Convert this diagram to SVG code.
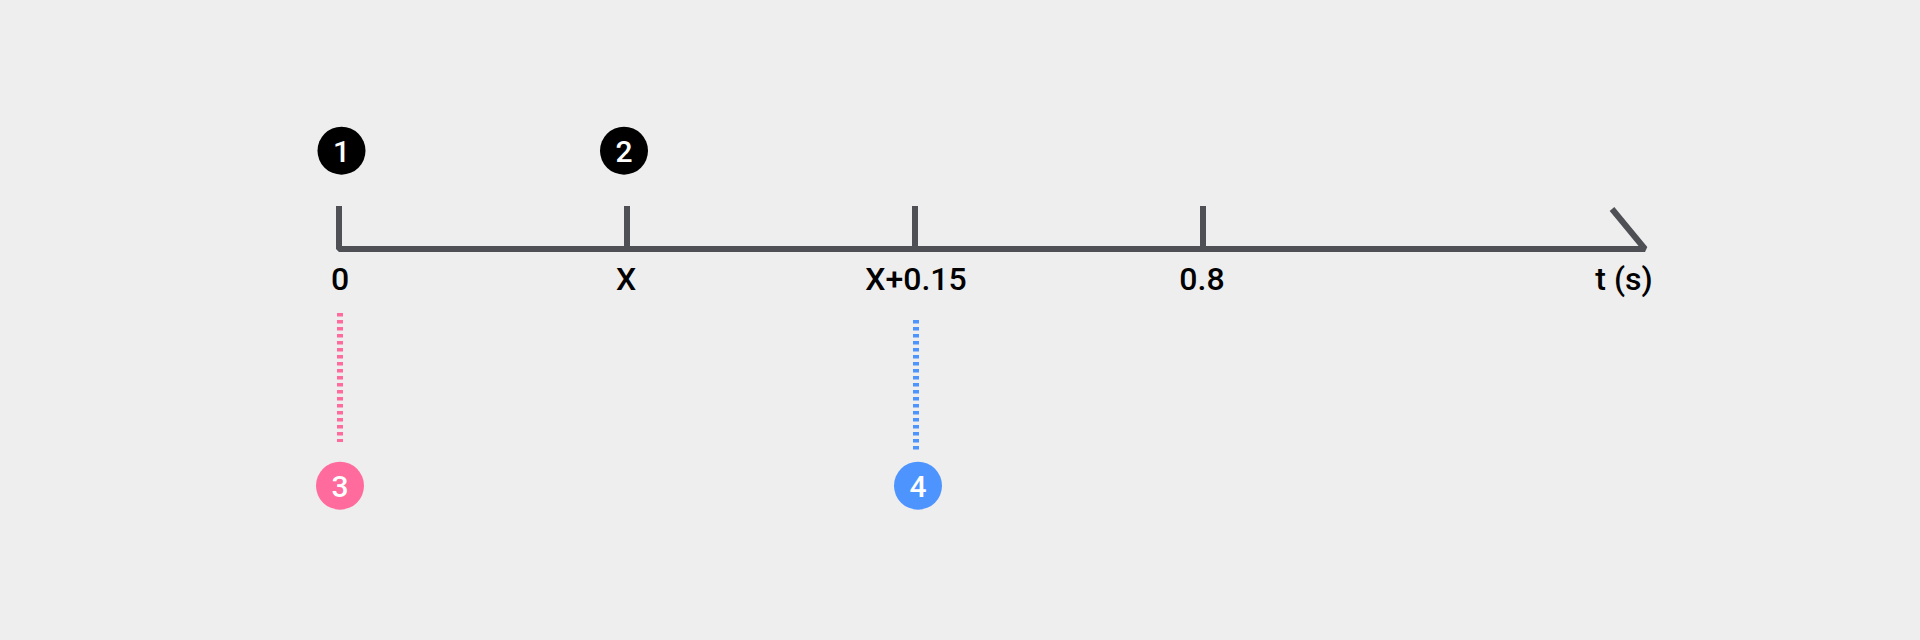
<svg xmlns="http://www.w3.org/2000/svg" width="1920" height="640" viewBox="0 0 1920 640">
<style>
.axis{stroke:#4f5055;stroke-width:6;fill:none;stroke-linejoin:bevel}
.lbl{font-family:Roboto,"Liberation Sans",sans-serif;font-size:32px;font-weight:500;fill:#000;text-anchor:middle}
.num{font-family:Roboto,"Liberation Sans",sans-serif;font-size:30px;font-weight:500;fill:#fff;text-anchor:middle}
.pink{stroke:#ff6b9c;stroke-width:6;stroke-dasharray:3.5 3.5;fill:none}
.blue{stroke:#4d94ff;stroke-width:6;stroke-dasharray:3.5 3.5;fill:none}
</style>
<rect width="1920" height="640" fill="#eeeeee"/>
<g id="axis">
<path class="axis" d="M339 206V249H1645L1612 209"/>
<path class="axis" d="M627 206V249M915 206V249M1203 206V249"/>
<text class="lbl" x="340" y="290">0</text>
<text class="lbl" x="626" y="290">X</text>
<text class="lbl" x="916" y="290">X+0.15</text>
<text class="lbl" x="1202" y="290">0.8</text>
<text class="lbl" x="1624" y="290">t (s)</text>
</g>
<g id="connectors">
<path class="pink" d="M340 313V442"/>
<path class="blue" d="M916 320V451"/>
</g>
<g id="n1"><circle cx="341.5" cy="150.7" r="24" fill="#000"/><text class="num" x="341.5" y="161.5">1</text></g>
<g id="n2"><circle cx="624" cy="150.7" r="24" fill="#000"/><text class="num" x="624" y="161.5">2</text></g>
<g id="n3"><circle cx="340" cy="485.7" r="24" fill="#ff6b9c"/><text class="num" x="340" y="496.5">3</text></g>
<g id="n4"><circle cx="918" cy="485.7" r="24" fill="#4d94ff"/><text class="num" x="918" y="496.5">4</text></g>
</svg>
